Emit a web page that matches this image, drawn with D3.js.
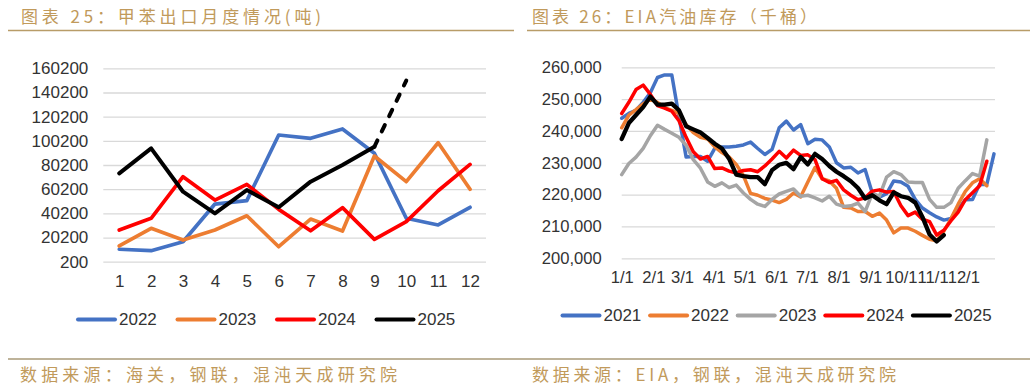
<!DOCTYPE html>
<html><head><meta charset="utf-8">
<script src="https://cdn.jsdelivr.net/npm/d3@7/dist/d3.min.js"></script>
<style>body{margin:0;background:#fff;} svg{display:block;}</style>
</head><body>
<svg id="c" width="1036" height="389"></svg>
<script>
// ---------- Left chart data: toluene exports (tons) ----------
const months = ["1","2","3","4","5","6","7","8","9","10","11","12"];
const export2022 = [10500, 9300, 16700, 47900, 50700, 105000, 102300, 110000, 89900, 36100, 30600, 45200];
const export2023 = [13200, 27800, 18100, 26400, 38200, 12600, 35500, 25600, 87600, 66400, 98600, 60100];
const export2024 = [26400, 36100, 70500, 51200, 64200, 43500, 25800, 44900, 18700, 33300, 58900, 80700];
const export2025 = [73300, 94000, 58100, 40200, 59500, 45200, 66400, 80200, 95300, 150000];
const exportTicks = [200, 20200, 40200, 60200, 80200, 100200, 120200, 140200, 160200];
const exportYears = ["2022","2023","2024","2025"];

// ---------- Right chart data: EIA gasoline stocks (thousand barrels), weekly ----------
const gasYears = ["2021","2022","2023","2024","2025"];
const gas2021 = [244.0,245.5,246.5,249.0,252.0,256.8,257.6,257.6,244.5,231.8,232.0,232.0,230.5,234.5,235.0,235.0,235.2,235.6,236.5,234.5,232.6,234.2,241.0,243.1,240.3,242.0,236.0,237.4,237.2,235.0,230.0,228.4,228.6,226.8,227.9,220.5,219.2,220.3,224.3,224.0,222.6,218.5,215.8,214.3,213.0,212.0,212.5,215.5,218.4,218.5,223.3,223.2,232.8];
const gas2022 = [241.0,245.0,246.7,248.5,250.0,249.0,247.3,246.5,245.5,242.0,239.5,238.0,237.5,235.0,233.2,231.8,229.5,226.0,220.4,219.8,218.8,218.3,217.5,218.5,220.5,219.3,224.0,228.5,225.0,224.3,222.0,216.0,215.8,214.7,214.7,213.2,214.2,212.0,208.0,209.5,209.5,208.5,207.2,206.0,205.5,208.5,212.5,217.0,221.0,223.7,225.0,222.8];
const gas2023 = [226.3,229.8,231.8,234.5,238.5,241.8,240.5,239.3,238.0,235.5,231.0,228.3,224.0,222.6,223.7,222.2,223.0,220.5,218.5,217.0,216.3,218.5,220.2,221.0,221.8,219.5,219.8,219.0,218.0,219.5,217.0,216.3,216.5,217.3,214.7,220.3,219.5,225.5,227.2,226.3,224.0,223.8,223.8,218.5,216.0,216.0,217.5,222.0,224.4,226.6,225.8,237.2];
const gas2024 = [245.5,249.0,253.0,254.4,251.5,248.0,247.2,246.2,243.2,238.0,233.5,231.2,232.0,228.2,228.4,227.4,226.8,227.6,227.8,227.2,229.0,231.2,233.6,231.5,234.0,232.3,232.5,231.0,225.0,223.8,224.5,221.5,219.8,218.4,219.0,221.1,221.5,220.8,221.0,216.5,213.4,214.5,212.3,211.5,207.3,208.8,211.8,214.5,218.4,220.6,222.8,230.5];
const gas2025 = [237.5,242.5,245.0,247.5,250.8,248.3,248.3,248.6,246.5,241.5,240.5,239.5,237.8,236.0,234.5,231.3,226.3,225.8,225.5,225.5,223.3,227.7,229.4,230.0,228.0,231.8,229.5,232.8,231.2,229.0,227.2,225.8,224.2,222.1,218.8,219.8,218.2,217.0,220.7,219.5,219.0,217.5,213.0,207.5,205.3,207.3];
const gasTicks = [200000, 210000, 220000, 230000, 240000, 250000, 260000];
const gasMonthLabels = ["1/1","2/1","3/1","4/1","5/1","6/1","7/1","8/1","9/1","10/1","11/1","12/1"];

// ---------- Styles ----------
const colors = {"2021":"#4472C4","2022":"#ED7D31","2023":"#A5A5A5","2024":"#FF0000","2025":"#000000"};
const exportColors = {"2022":"#4472C4","2023":"#ED7D31","2024":"#FF0000","2025":"#000000"};
const gold = "#C19A5B";
const lineGold = "#B89C68";
const axisFont = "'Liberation Sans', Arial, sans-serif";
const cjkFont = "'Noto Sans CJK SC', sans-serif";

const svg = d3.select("#c");
svg.append("rect").attr("width",1036).attr("height",389).attr("fill","#fff");

// Titles
function title(x, txt, len){
  svg.append("text").attr("x",x).attr("y",23).attr("font-family",cjkFont)
    .attr("font-size",17).attr("fill",gold).attr("textLength",len).attr("lengthAdjust","spacing").text(txt);
}
title(21, "图表 25：甲苯出口月度情况(吨)", 300);
title(532, "图表 26：EIA汽油库存（千桶）", 285);
svg.append("line").attr("x1",8).attr("x2",514).attr("y1",30.5).attr("y2",30.5).attr("stroke",lineGold).attr("stroke-width",1.5);
svg.append("line").attr("x1",527).attr("x2",1030).attr("y1",30.5).attr("y2",30.5).attr("stroke",lineGold).attr("stroke-width",1.5);

// Bottom rule and sources
svg.append("line").attr("x1",8).attr("x2",1030).attr("y1",359).attr("y2",359).attr("stroke","#A89A78").attr("stroke-width",1.5);
function source(x, txt, len){
  svg.append("text").attr("x",x).attr("y",381).attr("font-family",cjkFont)
    .attr("font-size",17).attr("fill",gold).attr("textLength",len).attr("lengthAdjust","spacing").text(txt);
}
source(20, "数据来源：海关，钢联，混沌天成研究院", 377);
source(532, "数据来源：EIA，钢联，混沌天成研究院", 364);

function styleAxis(g, size){
  g.select(".domain").remove();
  g.selectAll(".tick line").attr("stroke","#D9D9D9").attr("stroke-width",1.3);
  g.selectAll(".tick text").attr("font-family",axisFont).attr("font-size",size).attr("fill","#333");
}

// ---------- Left chart ----------
const xL = d3.scalePoint().domain(months).range([103.3, 486]).padding(0.5);
const yL = d3.scaleLinear().domain([200, 160200]).range([261.7, 68.3]);
const gyL = svg.append("g").attr("transform","translate(103.3,0)")
  .call(d3.axisLeft(yL).tickValues(exportTicks).tickFormat(d3.format("d")).tickSize(-(486-103.3)).tickPadding(15));
styleAxis(gyL, 17);
const gxL = svg.append("g").attr("transform","translate(0,261.7)")
  .call(d3.axisBottom(xL).tickSize(0).tickPadding(13));
styleAxis(gxL, 17);

const lineL = d3.line().x(d=>xL(d.m)).y(d=>yL(d.v));
const exportSeries = {"2022":export2022,"2023":export2023,"2024":export2024,"2025":export2025};
exportYears.forEach(y=>{
  const pts = exportSeries[y].map((v,i)=>({m:months[i], v}));
  const solid = y==="2025" ? pts.slice(0,9) : pts;
  svg.append("path").attr("d",lineL(solid)).attr("fill","none").attr("stroke",exportColors[y])
    .attr("stroke-width", y==="2025"?4:3.7).attr("stroke-linejoin","round").attr("stroke-linecap","round");
  if(y==="2025"){
    svg.append("path").attr("d",lineL(pts.slice(8,10))).attr("fill","none").attr("stroke","#000")
      .attr("stroke-width",4).attr("stroke-dasharray","7,10").attr("stroke-linecap","round");
  }
});

// Left legend
exportYears.forEach((y,i)=>{
  const x0 = 76 + i*99.5;
  svg.append("line").attr("x1",x0+2).attr("x2",x0+39).attr("y1",319.5).attr("y2",319.5)
    .attr("stroke",exportColors[y]).attr("stroke-width",4).attr("stroke-linecap","round");
  svg.append("text").attr("x",x0+43).attr("y",319.5).attr("dy","0.35em").attr("font-family",axisFont)
    .attr("font-size",17).attr("fill","#333").text(y);
});

// ---------- Right chart ----------
const t0 = new Date(2021,0,1), t1 = new Date(2022,0,1);
const xR = d3.scaleTime().domain([t0,t1]).range([621.7, 995]);
const yR = d3.scaleLinear().domain([200000, 260000]).range([258.3, 67.3]);
const gyR = svg.append("g").attr("transform","translate(621.7,0)")
  .call(d3.axisLeft(yR).tickValues(gasTicks).tickFormat(d3.format(",")).tickSize(-(995-621.7)).tickPadding(20));
styleAxis(gyR, 16.6);
const monthTicks = d3.timeMonth.range(t0, t1);
const gxR = svg.append("g").attr("transform","translate(0,258.3)")
  .call(d3.axisBottom(xR).tickValues(monthTicks).tickFormat((d,i)=>gasMonthLabels[i]).tickSize(0).tickPadding(13));
styleAxis(gxR, 16.6);

const gasSeries = {"2021":gas2021,"2022":gas2022,"2023":gas2023,"2024":gas2024,"2025":gas2025};
const lineR = d3.line().x(d=>xR(d.date)).y(d=>yR(d.v));
gasYears.forEach(y=>{
  const pts = gasSeries[y].map((v,i)=>({date:d3.timeDay.offset(t0, 7*i), v:v*1000}));
  svg.append("path").attr("d",lineR(pts)).attr("fill","none").attr("stroke",colors[y])
    .attr("stroke-width", y==="2025"?4.3:3.5).attr("stroke-linejoin","round").attr("stroke-linecap","round");
});

// Right legend
gasYears.forEach((y,i)=>{
  const x0 = 560.5 + i*87.6;
  svg.append("line").attr("x1",x0+2).attr("x2",x0+39).attr("y1",315.5).attr("y2",315.5)
    .attr("stroke",colors[y]).attr("stroke-width",4).attr("stroke-linecap","round");
  svg.append("text").attr("x",x0+43).attr("y",315.5).attr("dy","0.35em").attr("font-family",axisFont)
    .attr("font-size",17).attr("fill","#333").text(y);
});
</script>
</body></html>
